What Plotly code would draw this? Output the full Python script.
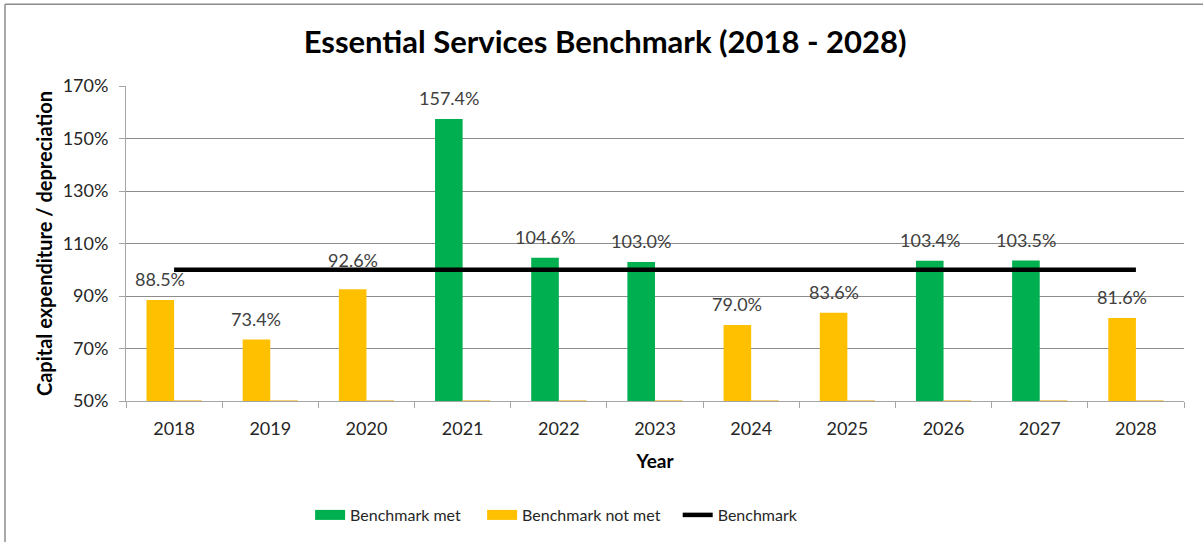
import plotly.graph_objects as go

years = ["2018", "2019", "2020", "2021", "2022", "2023", "2024", "2025", "2026", "2027", "2028"]
ratio = [88.5, 73.4, 92.6, 157.4, 104.6, 103.0, 79.0, 83.6, 103.4, 103.5, 81.6]
benchmark = [100] * len(years)
placeholder = [0] * len(years)

GREEN = "#00B050"
YELLOW = "#FFC000"
FONT = "Lato"
BW = 0.287
NB = "\u00a0"

met = [v if v >= b else None for v, b in zip(ratio, benchmark)]
not_met = [v if v < b else None for v, b in zip(ratio, benchmark)]

fig = go.Figure()
fig.add_trace(go.Bar(x=years, y=met, marker=dict(color=GREEN, line=dict(width=0)),
                     width=BW, offset=-BW, showlegend=False, hoverinfo="skip"))
fig.add_trace(go.Bar(x=years, y=not_met, marker=dict(color=YELLOW, line=dict(width=0)),
                     width=BW, offset=-BW, showlegend=False, hoverinfo="skip"))
fig.add_trace(go.Bar(x=years, y=placeholder, base=[50] * len(years),
                     marker=dict(color=YELLOW, line=dict(color="#F0C040", width=1.5)),
                     width=BW, offset=0, showlegend=False, hoverinfo="skip"))
fig.add_trace(go.Scatter(x=years, y=benchmark, mode="lines",
                         line=dict(color="black", width=4.5), showlegend=False, hoverinfo="skip"))

# legend entries
fig.add_trace(go.Scatter(x=[None], y=[None], mode="lines", name="Benchmark met" + NB * 4,
                         line=dict(color=GREEN, width=10)))
fig.add_trace(go.Scatter(x=[None], y=[None], mode="lines", name="Benchmark not met" + NB * 3,
                         line=dict(color=YELLOW, width=10)))
fig.add_trace(go.Scatter(x=[None], y=[None], mode="lines", name="Benchmark",
                         line=dict(color="black", width=4.5)))

px_per_pct = 316 / 120.0
for i, (v, b) in enumerate(zip(ratio, benchmark)):
    shift = 8
    bottom_px = v * px_per_pct + shift
    line_px = b * px_per_pct
    if v < b and bottom_px + 14 > line_px - 2:
        shift += (line_px - 3) - bottom_px
    fig.add_annotation(x=i, y=v, xref="x", yref="y", text=f"{v:.1f}%", showarrow=False,
                       yanchor="bottom", yshift=shift, xshift=-13.8,
                       font=dict(family=FONT, size=18, color="#404040"))

fig.update_layout(
    width=1203, height=542,
    margin=dict(l=126, r=19, t=86, b=140),
    paper_bgcolor="white", plot_bgcolor="white",
    barmode="overlay",
    title=dict(text="<b>Essential Services Benchmark (2018 - 2028)</b>", x=0.503, xanchor="center",
               y=1 - 42 / 542, yanchor="middle", font=dict(family=FONT, size=31, color="black")),
    font=dict(family=FONT, size=16, color="#262626"),
    legend=dict(orientation="h", x=0.407, xanchor="center", y=-(515 - 402) / 316, yanchor="middle",
                font=dict(family=FONT, size=16, color="#262626"), itemwidth=30,
                bgcolor="rgba(0,0,0,0)"),
    showlegend=True,
)
fig.update_xaxes(
    type="category", tickson="boundaries", ticks="outside", ticklen=6, tickcolor="#A6A6A6",
    showline=True, linecolor="#A6A6A6", linewidth=1, showgrid=False,
    tickfont=dict(family=FONT, size=18, color="#262626"), ticklabelstandoff=11,
    title=dict(text="<b>Year</b>", font=dict(family=FONT, size=19, color="black"), standoff=17),
    range=[-0.5, len(years) - 0.5],
)
fig.update_yaxes(
    range=[50, 170], dtick=20, tick0=50, ticksuffix="%", ticks="outside", ticklen=6,
    tickcolor="#A6A6A6", showline=True, linecolor="#A6A6A6", linewidth=1,
    showgrid=True, gridcolor="#8C8C8C", gridwidth=1, zeroline=False,
    tickfont=dict(family=FONT, size=18, color="#262626"), ticklabelstandoff=7,
    title=dict(text="<b>Capital expenditure / depreciation</b>",
               font=dict(family=FONT, size=20, color="black"), standoff=4),
)
# chart border (top and left edges)
fig.add_shape(type="line", xref="paper", yref="paper",
              x0=-121 / 1058.0, x1=1.2, y0=1 + 82 / 316.0, y1=1 + 82 / 316.0,
              line=dict(color="#8C8C8C", width=1.5))
fig.add_shape(type="line", xref="paper", yref="paper",
              x0=-121 / 1058.0, x1=-121 / 1058.0, y0=-0.5, y1=1 + 82 / 316.0,
              line=dict(color="#8C8C8C", width=1.5))

fig.write_html("out.html", config={"displayModeBar": False},
               post_script="document.body.style.margin='0';")
